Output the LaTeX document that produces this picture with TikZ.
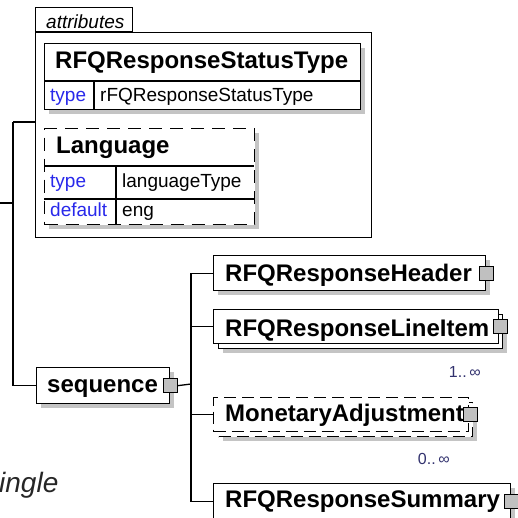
\documentclass[tikz,border=0pt]{standalone}
\usepackage{fontspec}
\setmainfont{Liberation Sans}
\usetikzlibrary{shadows}
\definecolor{shadowgrey}{RGB}{196,196,196}
\definecolor{portgrey}{RGB}{192,192,192}
\definecolor{attrblue}{RGB}{40,40,235}
\definecolor{occ}{RGB}{50,50,110}
\begin{document}
\begin{tikzpicture}[x=1pt,y=-1pt,
  conn/.style={line width=1.3pt, draw=black},
  boxbase/.style={draw=black, fill=white, line width=1.3pt, inner sep=0pt, anchor=north west},
  shad/.style={drop shadow={shadow xshift=4pt, shadow yshift=-4pt, fill=shadowgrey, opacity=1}},
  elbox/.style={boxbase, shad},
  dashbox/.style={boxbase, dash pattern=on 12pt off 6pt},
  port/.style={draw=black, fill=portgrey, line width=1pt, minimum size=14pt, inner sep=0pt},
  hdrtext/.style={font=\fontsize{24}{28}\selectfont\bfseries, inner sep=0pt, anchor=base west},
  smalltext/.style={font=\fontsize{19}{22}\selectfont, inner sep=0pt, anchor=base west},
  attrkey/.style={smalltext, text=attrblue},
  occtext/.style={font=\fontsize{16}{18}\selectfont, text=occ, inner sep=0pt, anchor=base east}
]
\useasboundingbox (0,0) rectangle (518,518);

% attributes group
\node[boxbase, fill=none, minimum width=336pt, minimum height=205pt] (attrs) at (35,32) {};
\node[draw=black, line width=1.3pt, inner sep=0pt, anchor=south west, minimum width=97pt, minimum height=24pt] (tab) at (attrs.north west) {};
\node[smalltext, font=\fontsize{19}{22}\selectfont\itshape] (tablbl) at (46,29) {attributes};

% RFQResponseStatusType attribute
\node[elbox, minimum width=316pt, minimum height=66pt] (rst) at (44,43) {};
\draw[conn] (44,81) -- (360,81);
\draw[conn] (94,81) -- (94,109);
\node[hdrtext] (rstname) at (55,69) {RFQResponseStatusType};
\node[attrkey] (rsttk) at (50,102) {type};
\node[smalltext] (rsttv) at (100,102) {rFQResponseStatusType};

% Language attribute
\node[boxbase, shad, dash pattern=on 13pt off 8pt, minimum width=210pt, minimum height=96pt] (lang) at (44,128) {};
\draw[conn] (44,166) -- (254,166);
\draw[conn] (44,199) -- (254,199);
\draw[conn] (116,166) -- (116,224);
\node[hdrtext] (langname) at (56,154) {Language};
\node[attrkey] (langtk) at (50,188) {type};
\node[smalltext] (langtv) at (122,188) {languageType};
\node[attrkey] (langdk) at (50,217) {default};
\node[smalltext] (langdv) at (122,217) {eng};

% sequence
\node[elbox, minimum width=133pt, minimum height=36pt] (seq) at (36,367) {};
\node[hdrtext] (seqlbl) at (47,392) {sequence};
\node[port] (seqport) at (seq.east) {};

% left connectors
\coordinate (lt) at (13,122);
\coordinate (lin) at (0,203);
\draw[conn] (lt) -- (lt -| attrs.west);
\draw[conn] (lt) |- (seq.west);
\draw[conn] (lin) -- (lin -| lt);

% children
\node[elbox, minimum width=272pt, minimum height=35pt] (hdr) at (213,255) {};
\node[hdrtext] (hdrlbl) at (225,281) {RFQResponseHeader};
\node[port] (hdrport) at (hdr.east) {};

\node[elbox, minimum width=284pt, minimum height=34pt] (lib) at (218,314) {};
\node[boxbase, minimum width=285pt, minimum height=34pt] (lif) at (213,309) {};
\node[hdrtext] (liflbl) at (225,336) {RFQResponseLineItem};
\node[port] (lifport) at ([xshift=1pt]lif.east) {};
\node[occtext] (lifocc) at (481,377) {1..\,∞};

\node[dashbox, shad, minimum width=254pt, minimum height=34pt] (mab) at (218,402) {};
\node[dashbox, minimum width=255pt, minimum height=34pt] (maf) at (213,397) {};
\node[hdrtext] (maflbl) at (225,421) {MonetaryAdjustment};
\node[port] (mafport) at ([xshift=1pt]maf.east) {};
\node[occtext] (mafocc) at (450,464) {0..\,∞};

\node[elbox, minimum width=297pt, minimum height=35pt] (sum) at (213,483) {};
\node[hdrtext] (sumlbl) at (225,507) {RFQResponseSummary};
\node[port] (sumport) at (sum.east) {};

% sequence connectors
\coordinate (j) at (191,384);
\draw[conn] (seqport.east) -- (j);
\draw[conn] (hdr.west) -| (j);
\draw[conn] (lif.west) -| (j);
\draw[conn] (maf.west) -| (j);
\draw[conn] (sum.west) -| (j);

% cut-off caption
\node[font=\fontsize{28}{32}\selectfont\itshape, text=black!85, inner sep=0pt, anchor=base west] (cap) at (-1,492) {ingle};
\end{tikzpicture}
\end{document}
